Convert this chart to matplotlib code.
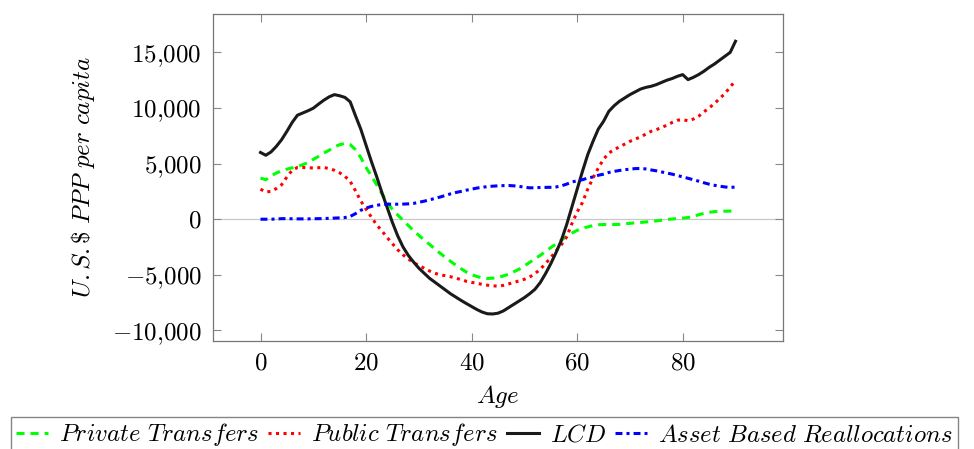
import numpy as np
import matplotlib
matplotlib.use('Agg')
import matplotlib.pyplot as plt
from matplotlib.ticker import FuncFormatter

plt.rcParams['mathtext.fontset'] = 'cm'
plt.rcParams['font.family'] = 'serif'
plt.rcParams['font.serif'] = ['cmr10', 'DejaVu Serif']
plt.rcParams['axes.formatter.use_mathtext'] = True
plt.rcParams['lines.scale_dashes'] = False

# ages 0..90
ages = np.arange(0, 91)

# values (U.S.$ PPP per capita)
private_transfers = [
    3700, 3550, 3900, 4150, 4350, 4500, 4620, 4730, 4900, 5100,
    5380, 5650, 5950, 6200, 6500, 6700, 6820, 6700, 6250, 5550,
    4650, 3900, 3100, 2300, 1500, 880, 380, -90, -560, -1030,
    -1450, -1850, -2250, -2650, -3050, -3420, -3780, -4130, -4450, -4750,
    -4980, -5150, -5270, -5330, -5300, -5250, -5100, -4950, -4720, -4500,
    -4200, -3880, -3550, -3250, -2900, -2550, -2230, -1880, -1550, -1250,
    -1000, -800, -690, -580, -500, -480, -480, -480, -460, -420,
    -370, -330, -290, -250, -210, -150, -90, -20, 20, 60,
    100, 150, 250, 400, 520, 620, 680, 710, 720, 730,
    730]

public_transfers = [
    2700, 2450, 2500, 2760, 3100, 3800, 4400, 4650, 4650, 4620,
    4610, 4630, 4650, 4550, 4400, 4170, 3850, 3400, 2550, 1650,
    900, 200, -500, -1050, -1650, -2200, -2750, -3200, -3580, -3900,
    -4170, -4400, -4650, -4850, -5000, -5080, -5170, -5300, -5430, -5580,
    -5680, -5760, -5860, -5930, -5990, -6020, -5950, -5820, -5680, -5550,
    -5400, -5200, -4900, -4500, -4000, -3450, -2850, -2300, -1600, -400,
    650, 1500, 2700, 3700, 4600, 5400, 5950, 6250, 6500, 6750,
    7000, 7200, 7400, 7650, 7900, 8050, 8250, 8450, 8700, 8900,
    8950, 8850, 9000, 9250, 9650, 10000, 10400, 10850, 11300, 11900,
    12450]

lcd = [
    6000, 5750, 6050, 6550, 7150, 7900, 8700, 9350, 9550, 9750,
    9980, 10350, 10700, 11000, 11200, 11100, 10950, 10550, 9300, 8100,
    6650, 5200, 3850, 2400, 1050, -300, -1500, -2490, -3250, -3850,
    -4400, -4850, -5300, -5650, -6000, -6350, -6700, -7000, -7300, -7580,
    -7850, -8120, -8350, -8500, -8520, -8450, -8250, -7950, -7650, -7350,
    -7050, -6700, -6300, -5700, -4900, -4000, -3000, -1900, -500, 1100,
    2700, 4300, 5800, 7000, 8100, 8800, 9700, 10200, 10600, 10900,
    11200, 11450, 11700, 11850, 11950, 12100, 12300, 12500, 12650, 12850,
    13000, 12550, 12750, 13000, 13300, 13650, 13950, 14300, 14650, 15000,
    16000]

asset_based = [
    0, 0, 0, 20, 50, 50, 40, 30, 30, 30,
    40, 50, 60, 80, 100, 120, 150, 250, 500, 800,
    1000, 1150, 1250, 1320, 1350, 1350, 1350, 1360, 1380, 1420,
    1520, 1620, 1740, 1860, 1990, 2130, 2280, 2400, 2500, 2610,
    2700, 2800, 2870, 2930, 2970, 3000, 3020, 3030, 3000, 2950,
    2880, 2820, 2830, 2850, 2860, 2870, 2900, 3000, 3150, 3350,
    3450, 3550, 3700, 3800, 3950, 4050, 4200, 4300, 4380, 4450,
    4500, 4550, 4560, 4520, 4430, 4350, 4250, 4150, 4050, 3930,
    3800, 3680, 3550, 3420, 3280, 3150, 3050, 2970, 2900, 2850,
    2900]

y_ticks = [-10000, -5000, 0, 5000, 10000, 15000]
x_ticks = [0, 20, 40, 60, 80]

fig = plt.figure(figsize=(9.74, 4.49), dpi=100)
ax = fig.add_axes([213 / 974, 1 - 341 / 449, 570 / 974, 327 / 449])

ax.axhline(0, color='#c8c8c8', lw=0.9, zorder=1)

l1, = ax.plot(ages, private_transfers, color=(0, 1, 0), lw=2.2,
              dashes=(5.8, 4.3), label=r'$Private\ Transfers$')
l2, = ax.plot(ages, public_transfers, color=(1, 0, 0), lw=2.2,
              dashes=(2.2, 3.2), label=r'$Public\ Transfers$')
l3, = ax.plot(ages, lcd, color='#1a1a1a', lw=2.2, label=r'$LCD$')
l4, = ax.plot(ages, asset_based, color=(0, 0, 1), lw=2.2,
              dashes=(5, 2.9, 2.2, 2.9), label=r'$Asset\ Based\ Reallocations$')

ax.set_xlim(-9, 99)
ax.set_ylim(-10950, 18450)
ax.set_xticks(x_ticks)
ax.set_yticks(y_ticks)


def fmt_y(v, pos):
    s = f'{abs(int(v)):,}'.replace(',', '{,}')
    if v < 0:
        return r'$-' + s + '$'
    return r'$' + s + '$'


ax.yaxis.set_major_formatter(FuncFormatter(fmt_y))
ax.xaxis.set_major_formatter(FuncFormatter(lambda v, p: r'$%d$' % v))

ax.tick_params(direction='in', top=True, right=True, length=6, width=0.8,
               color='#888888', labelsize=18, pad=8)
for sp in ax.spines.values():
    sp.set_color('#777777')
    sp.set_linewidth(0.9)

ax.set_xlabel(r'$Age$', fontsize=18, labelpad=6)
ax.set_ylabel(r'$U.S.\$\ PPP\ per\ capita$', fontsize=18, labelpad=11)

fig.legend(handles=[l1, l2, l3, l4], loc='upper left',
           bbox_to_anchor=(11 / 974, 1 - 416.5 / 449), ncol=4,
           fontsize=17.8, frameon=True, fancybox=False, edgecolor='#666666',
           handlelength=1.3, handletextpad=0.45, columnspacing=0.35,
           borderpad=0.2, borderaxespad=0)

fig.savefig('out.png', dpi=100)
